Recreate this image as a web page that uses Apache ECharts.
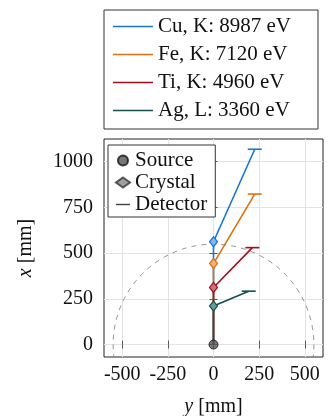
<!DOCTYPE html>
<html>
<head>
<meta charset="utf-8">
<script src="https://cdn.jsdelivr.net/npm/echarts@6/dist/echarts.min.js"></script>
<style>html,body{margin:0;padding:0;background:#fff}#c{width:330px;height:416px}</style>
</head>
<body>
<div id="c"></div>
<script>
var names = ['Cu, K: 8987 eV', 'Fe, K: 7120 eV', 'Ti, K: 4960 eV', 'Ag, L: 3360 eV'];
var colors = ['#1a75d2', '#dd7012', '#a0101a', '#13514f'];
var lightColors = ['#7fb5ea', '#f0b07a', '#d0707a', '#6a9a98'];
var crystalX = [0, 0, 0, 0];
var crystalY = [562, 443, 312, 211];
var detectorX = [226, 226, 213, 193];
var detectorY = [1068, 823, 530, 292];
var source = [0, 0];
var circleRadius = 550;
var xTicks = [-500, -250, 0, 250, 500];
var yTicks = [0, 250, 500, 750, 1000];

var FONT = 'Liberation Serif';
var series = [];
for (var i = 0; i < names.length; i++) {
  series.push({
    name: names[i], type: 'line', z: 3,
    color: colors[i],
    lineStyle: { color: colors[i], width: 1.6 },
    itemStyle: { color: colors[i] },
    showSymbol: true,
    data: [
      { value: source.slice(), symbol: 'none' },
      { value: [crystalX[i], crystalY[i]], symbol: 'diamond', symbolSize: [8, 10],
        itemStyle: { color: lightColors[i], borderColor: colors[i], borderWidth: 1.2 } },
      { value: [detectorX[i], detectorY[i]], symbol: 'rect', symbolSize: [14, 1.6],
        itemStyle: { color: colors[i] } }
    ]
  });
}
series.push({
  name: 'Source', type: 'scatter', z: 5, symbol: 'circle', symbolSize: 9,
  itemStyle: { color: '#555555', borderColor: '#111', borderWidth: 1 },
  data: [source.slice()]
});
series.push({ name: 'Crystal', type: 'scatter', symbol: 'diamond',
  itemStyle: { color: '#888888', borderColor: '#333', borderWidth: 1 }, data: [] });
series.push({ name: 'Detector', type: 'scatter', itemStyle: { color: '#111111' }, data: [] });
series.push({
  type: 'custom', z: 1, clip: true, silent: true,
  data: [[source[0], source[1], circleRadius]],
  renderItem: function (params, api) {
    var c = api.coord([api.value(0), api.value(1)]);
    var r = api.size([api.value(2), 0])[0];
    return { type: 'circle', shape: { cx: c[0], cy: c[1], r: r },
      style: { fill: 'none', stroke: '#888', lineWidth: 0.9, lineDash: [5, 5] } };
  }
});

var tickStyle = { show: true, inside: true, length: 4, lineStyle: { color: '#333', width: 0.8 } };
var fmt = function (v) { return String(v); };
var option = {
  animation: false,
  textStyle: { fontFamily: FONT },
  grid: { left: 104, right: 7, top: 139, bottom: 59, show: true, borderColor: '#222', borderWidth: 1,
    containLabel: false, outerBoundsMode: 'none' },
  legend: [
    {
      orient: 'vertical', left: 104, top: 10,
      padding: [6, 27, 8, 9], itemGap: 7, itemWidth: 40, itemHeight: 10,
      borderColor: '#333', borderWidth: 1, backgroundColor: '#fff',
      data: names.map(function (n) { return { name: n, icon: 'path://M0,0H40V1.6H0Z' }; }),
      textStyle: { fontFamily: FONT, fontSize: 21, color: '#111' }
    },
    {
      orient: 'vertical', left: 108, top: 145,
      padding: [5, 8, 2, 7], itemGap: 1, itemWidth: 14, itemHeight: 10,
      borderColor: '#333', borderWidth: 1, backgroundColor: '#fff',
      data: [
        { name: 'Source', icon: 'circle' },
        { name: 'Crystal', icon: 'diamond' },
        { name: 'Detector', icon: 'path://M0,0H14V1.4H0Z' }
      ],
      textStyle: { fontFamily: FONT, fontSize: 21, lineHeight: 19, color: '#111' }
    }
  ],
  xAxis: [
    {
      type: 'value', min: -600, max: 600, position: 'bottom',
      axisLine: { show: false },
      axisTick: Object.assign({ customValues: xTicks }, tickStyle),
      axisLabel: { customValues: xTicks, formatter: fmt, margin: 8, fontFamily: FONT, fontSize: 20, color: '#111' },
      splitLine: { show: true, lineStyle: { color: '#e3e3e3', width: 1 } },
      name: '{i|y} [mm]', nameLocation: 'middle', nameGap: 40,
      nameTextStyle: { fontFamily: FONT, fontSize: 20, color: '#111',
        rich: { i: { fontFamily: FONT, fontStyle: 'italic', fontSize: 20, color: '#111' } } }
    },
    {
      type: 'value', min: -600, max: 600, position: 'top',
      axisLine: { show: false },
      axisTick: Object.assign({ customValues: xTicks }, tickStyle),
      axisLabel: { show: false }, splitLine: { show: false }
    }
  ],
  yAxis: [
    {
      type: 'value', min: -68, max: 1124, position: 'left',
      axisLine: { show: false },
      axisTick: Object.assign({ customValues: yTicks }, tickStyle),
      axisLabel: { customValues: yTicks, formatter: fmt, margin: 11, fontFamily: FONT, fontSize: 20, color: '#111' },
      splitLine: { show: true, lineStyle: { color: '#e3e3e3', width: 1 } },
      name: '{i|x} [mm]', nameLocation: 'middle', nameGap: 68, nameRotate: 90,
      nameTextStyle: { fontFamily: FONT, fontSize: 20, color: '#111',
        rich: { i: { fontFamily: FONT, fontStyle: 'italic', fontSize: 20, color: '#111' } } }
    },
    {
      type: 'value', min: -68, max: 1124, position: 'right',
      axisLine: { show: false },
      axisTick: Object.assign({ customValues: yTicks }, tickStyle),
      axisLabel: { show: false }, splitLine: { show: false }
    }
  ],
  series: series
};
var chart = echarts.init(document.getElementById('c'), null, { renderer: 'canvas' });
chart.setOption(option);
</script>
</body>
</html>
